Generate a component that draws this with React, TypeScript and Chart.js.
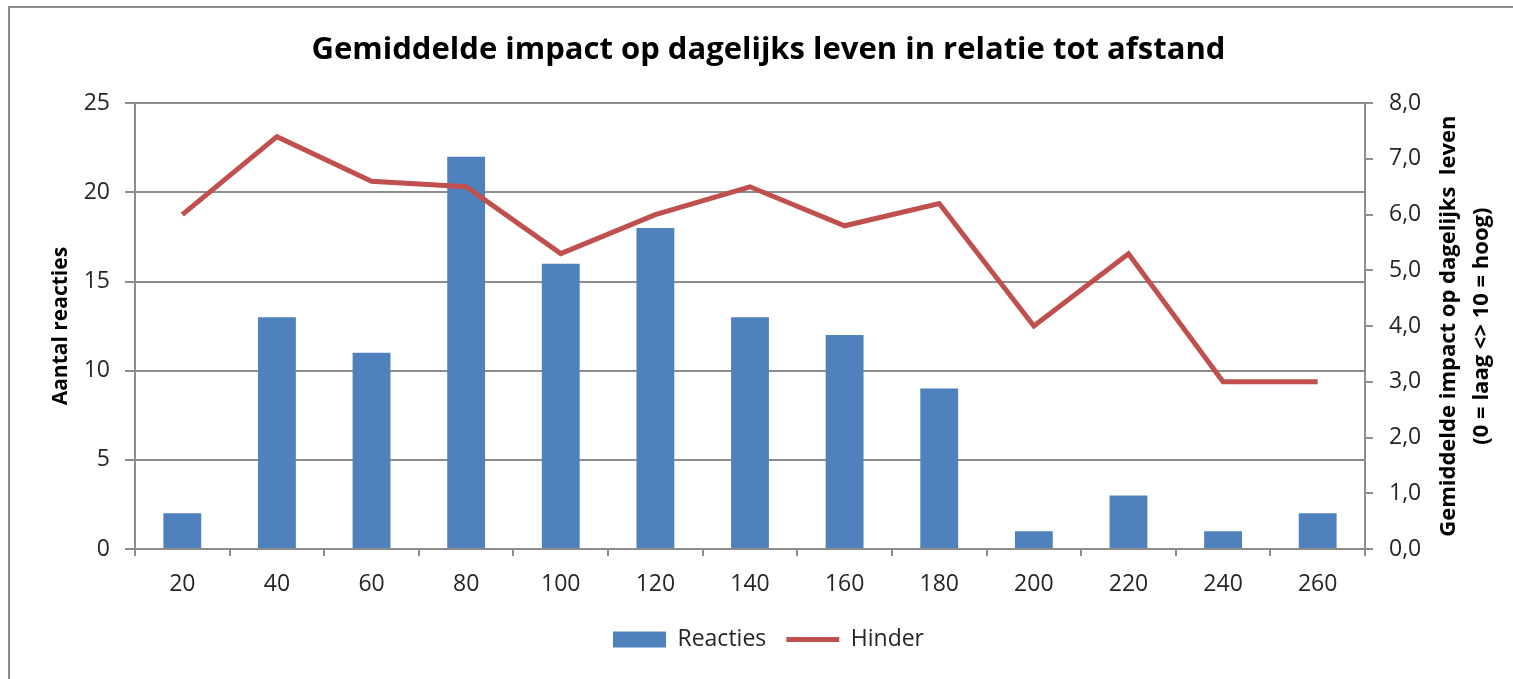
import React, { useEffect, useRef } from 'react';
import { Chart, registerables } from 'chart.js';

Chart.register(...registerables);

const categories = ['20', '40', '60', '80', '100', '120', '140', '160', '180', '200', '220', '240', '260'];
const reacties = [2, 13, 11, 22, 16, 18, 13, 12, 9, 1, 3, 1, 2];
const hinder = [6.0, 7.4, 6.6, 6.5, 5.3, 6.0, 6.5, 5.8, 6.2, 4.0, 5.3, 3.0, 3.0];

const chartTitle = 'Gemiddelde impact op dagelijks leven in relatie tot afstand';
const leftAxisTitle = 'Aantal reacties';
const rightAxisTitle = ['Gemiddelde impact op dagelijks  leven', '(0 = laag <> 10 = hoog)'];
const seriesNames = ['Reacties', 'Hinder'];

const FONT = "'Open Sans', sans-serif";
const GRID = '#8c8c8c';
const TEXT = '#262626';

const framePlugin = {
  id: 'frame',
  beforeDraw(chart: any) {
    const ctx = chart.ctx;
    ctx.save();
    ctx.fillStyle = '#ffffff';
    ctx.fillRect(0, 0, chart.width, chart.height);
    ctx.strokeStyle = '#8c8c8c';
    ctx.lineWidth = 2;
    ctx.beginPath();
    ctx.moveTo(9, chart.height);
    ctx.lineTo(9, 7);
    ctx.lineTo(chart.width, 7);
    ctx.stroke();
    ctx.restore();
  },
};

const axisTitlePlugin = {
  id: 'axisTitles',
  afterDraw(chart: any) {
    const ctx = chart.ctx;
    const area = chart.chartArea;
    const cy = (area.top + area.bottom) / 2;
    ctx.save();
    ctx.fillStyle = '#000000';
    ctx.font = `bold 21px ${FONT}`;
    ctx.textAlign = 'center';
    ctx.textBaseline = 'middle';
    ctx.translate(61, cy);
    ctx.rotate(-Math.PI / 2);
    ctx.fillText(leftAxisTitle, 0, 0);
    ctx.restore();

    ctx.save();
    ctx.fillStyle = '#000000';
    ctx.font = `bold 22px ${FONT}`;
    ctx.textAlign = 'center';
    ctx.textBaseline = 'middle';
    ctx.translate(1449, cy);
    ctx.rotate(-Math.PI / 2);
    ctx.fillText(rightAxisTitle[0], 0, 0);
    ctx.fillText(rightAxisTitle[1], 0, 33);
    ctx.restore();
  },
};

export default function App() {
  const ref = useRef<HTMLCanvasElement | null>(null);

  useEffect(() => {
    if (!ref.current) return;
    const chart = new Chart(ref.current, {
      type: 'bar',
      data: {
        labels: categories,
        datasets: [
          {
            type: 'bar',
            label: seriesNames[0],
            data: reacties,
            backgroundColor: '#4F81BD',
            borderWidth: 0,
            barPercentage: 0.4,
            categoryPercentage: 1,
            yAxisID: 'y',
            order: 2,
            pointStyle: 'rect',
          } as any,
          {
            type: 'line',
            label: seriesNames[1],
            data: hinder,
            borderColor: '#C0504D',
            backgroundColor: '#C0504D',
            borderWidth: 5,
            pointRadius: 0,
            tension: 0,
            yAxisID: 'y1',
            order: 1,
            pointStyle: 'line',
          } as any,
        ],
      },
      options: {
        responsive: false,
        animation: false,
        layout: { padding: { left: 24, right: 0, top: 0, bottom: 18 } },
        plugins: {
          title: {
            display: true,
            text: chartTitle,
            color: '#000000',
            font: { family: FONT, size: 31, weight: 'bold', lineHeight: 1.2 },
            padding: { top: 32, bottom: 34 },
          },
          legend: {
            position: 'bottom',
            labels: {
              usePointStyle: true,
              pointStyleWidth: 53,
              boxHeight: 16,
              padding: 20,
              color: TEXT,
              font: { family: FONT, size: 23 },
              sort: (a: any, b: any) => a.datasetIndex - b.datasetIndex,
            },
          },
          tooltip: { enabled: false },
        },
        scales: {
          x: {
            offset: true,
            grid: {
              offset: true,
              drawOnChartArea: false,
              tickLength: 7,
              color: GRID,
              lineWidth: 2,
            },
            border: { color: GRID, width: 2 },
            ticks: { color: TEXT, font: { family: FONT, size: 23 }, padding: 15, maxRotation: 0 },
            afterFit: (s: any) => {
              s.height = 59;
            },
          },
          y: {
            position: 'left',
            min: 0,
            max: 25,
            ticks: { stepSize: 5, color: TEXT, font: { family: FONT, size: 23 }, padding: 15 },
            grid: { color: GRID, lineWidth: 2, tickLength: 10 },
            border: { color: GRID, width: 2 },
            afterFit: (s: any) => {
              s.width = 111;
            },
          },
          y1: {
            position: 'right',
            min: 0,
            max: 8,
            ticks: {
              stepSize: 1,
              color: TEXT,
              font: { family: FONT, size: 23 },
              padding: 16,
              callback: (v: any) => Number(v).toFixed(1).replace('.', ','),
            },
            grid: { drawOnChartArea: false, color: GRID, lineWidth: 2, tickLength: 8 },
            border: { color: GRID, width: 2 },
            afterFit: (s: any) => {
              s.width = 148;
            },
          },
        },
      } as any,
      plugins: [framePlugin, axisTitlePlugin],
    });
    return () => chart.destroy();
  }, []);

  return (
    <div style={{ position: 'fixed', left: 0, top: 0, width: 1513, height: 679, overflow: 'hidden', background: '#fff' }}>
      <canvas ref={ref} width={1513} height={679} style={{ display: 'block', width: 1513, height: 679 }} />
    </div>
  );
}
